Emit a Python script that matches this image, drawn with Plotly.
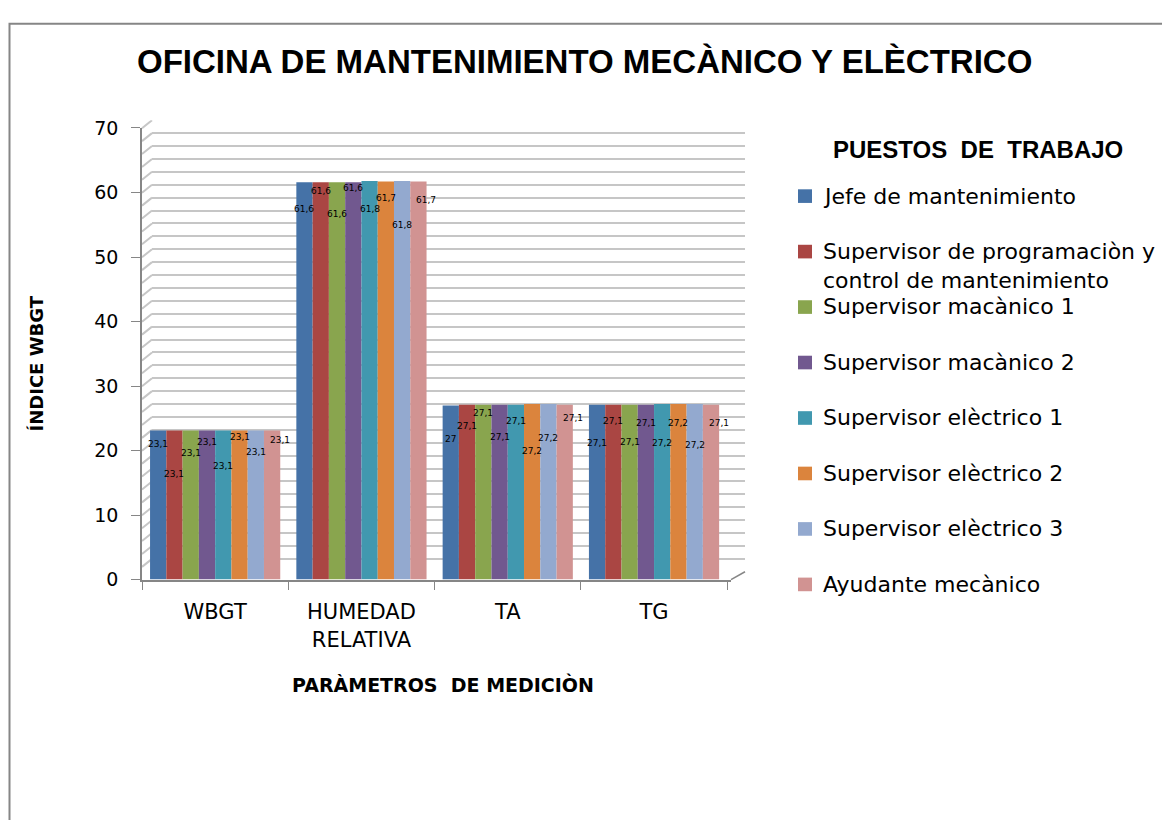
import plotly.graph_objects as go

W, H = 1170, 820
OFF = 8  # page body margin: the figure starts 8 px from the page corner

categories = ["WBGT", "HUMEDAD<br>RELATIVA", "TA", "TG"]
series_names = [
    "Jefe de mantenimiento",
    "Supervisor de programaciòn y<br>control de mantenimiento",
    "Supervisor macànico 1",
    "Supervisor macànico 2",
    "Supervisor elèctrico 1",
    "Supervisor elèctrico 2",
    "Supervisor elèctrico 3",
    "Ayudante mecànico",
]
# values per series, in the order of categories
jefe = [23.1, 61.6, 27.0, 27.1]
sup_prog = [23.1, 61.6, 27.1, 27.1]
sup_mec1 = [23.1, 61.6, 27.1, 27.1]
sup_mec2 = [23.1, 61.6, 27.1, 27.1]
sup_ele1 = [23.1, 61.8, 27.1, 27.2]
sup_ele2 = [23.1, 61.7, 27.2, 27.2]
sup_ele3 = [23.1, 61.8, 27.2, 27.2]
ayudante = [23.1, 61.7, 27.1, 27.1]
values = [jefe, sup_prog, sup_mec1, sup_mec2, sup_ele1, sup_ele2, sup_ele3, ayudante]

# ---- styles ----
colors = ["#4572A7", "#AA4643", "#89A54E", "#71588F", "#4198AF", "#DB843D", "#93A9CF", "#D19392"]
# label pixel drop below bar top, [series][category] (mimics Excel 3D label placement)
label_drop = [
    [13, 27, 34, 38],
    [43, 9, 21, 16],
    [22, 32, 8, 37],
    [11, 6, 32, 18],
    [35, 28, 16, 39],
    [6, 16, 47, 19],
    [21, 44, 34, 41],
    [9, 18, 13, 18],
]
BARGAP = 0.11
GRID = "#c6c6c6"
AXC = "#868686"
FONT = "DejaVu Sans"


def px_x(p):
    return (p - OFF) / W


def px_y(p):
    return 1 - (p - OFF) / H


fig = go.Figure()
# back wall subplot (grid only)
fig.add_trace(go.Scatter(x=[None], y=[None], xaxis="x", yaxis="y", showlegend=False, hoverinfo="skip"))

for i, (name, vals) in enumerate(zip(series_names, values)):
    fig.add_trace(go.Bar(
        x=categories, y=vals, name=name, xaxis="x2", yaxis="y2",
        marker=dict(color=colors[i], line=dict(width=0)),
        showlegend=False,
    ))

annotations = []
n = len(series_names)
w = (1 - BARGAP) / n
for i, vals in enumerate(values):
    for j, v in enumerate(vals):
        txt = (f"{v:g}").replace(".", ",")
        annotations.append(dict(
            x=j + (i - (n - 1) / 2) * w, y=v, xref="x2", yref="y2",
            xanchor="center", yanchor="middle",
            text=txt, showarrow=False, yshift=-label_drop[i][j],
            xshift=8 if i == n - 1 else 0,
            font=dict(family=FONT, size=9, color="#000000"),
        ))

# title
annotations.append(dict(
    x=px_x(584), y=px_y(52), xref="paper", yref="paper", showarrow=False,
    xanchor="center", yanchor="middle",
    text="<b>OFICINA DE MANTENIMIENTO MECÀNICO Y ELÈCTRICO</b>",
    font=dict(family="Liberation Sans", size=33, color="#000000"),
))
# axis titles
annotations.append(dict(
    x=px_x(37), y=px_y(362), xref="paper", yref="paper", showarrow=False, textangle=-90,
    xanchor="center", yanchor="middle",
    text="<b>ÍNDICE WBGT</b>", font=dict(family=FONT, size=18, color="#000000"),
))
annotations.append(dict(
    x=px_x(443), y=px_y(692), xref="paper", yref="paper", showarrow=False,
    xanchor="center", yanchor="middle",
    text="<b>PARÀMETROS  DE MEDICIÒN</b>", font=dict(family=FONT, size=19, color="#000000"),
))
# legend title
annotations.append(dict(
    x=px_x(978), y=px_y(142), xref="paper", yref="paper", showarrow=False,
    xanchor="center", yanchor="middle",
    text="<b>PUESTOS  DE  TRABAJO</b>", font=dict(family="Liberation Sans", size=24, color="#000000"),
))

shapes = []
# chart border (runs off the right and bottom edges)
shapes.append(dict(type="rect", xref="paper", yref="paper", x0=1.5 / W, x1=1.05, y0=-0.05, y1=px_y(13),
                   line=dict(color=AXC, width=2), fillcolor="rgba(0,0,0,0)", layer="below"))
# manual legend
LEG_FS = 22
for i, name in enumerate(series_names):
    yc = 190 + 57 * i
    shapes.append(dict(type="rect", xref="paper", yref="paper",
                       x0=px_x(798), x1=px_x(812), y0=px_y(yc + 7), y1=px_y(yc - 7),
                       fillcolor=colors[i], line=dict(width=0)))
    annotations.append(dict(
        x=px_x(821), y=px_y(yc - 15), xref="paper", yref="paper", showarrow=False,
        xanchor="left", yanchor="top", align="left", text=name,
        font=dict(family=FONT, size=LEG_FS, color="#000000"),
    ))
# side-wall slants connecting the front axis to the back wall grid
for v in range(0, 72, 2):
    shapes.append(dict(type="line", xref="paper", yref="y", x0=px_x(142), x1=px_x(152),
                       ysizemode="pixel", yanchor=v, y0=-8, y1=0,
                       line=dict(color=GRID, width=2), layer="below"))
# floor right slant
shapes.append(dict(type="line", xref="paper", yref="paper", x0=px_x(731), x1=px_x(745),
                   y0=px_y(584), y1=px_y(576), line=dict(color=AXC, width=1.5)))

fig.update_layout(
    width=W, height=H,
    margin=dict(l=0, r=0, t=0, b=0),
    paper_bgcolor="white", plot_bgcolor="rgba(0,0,0,0)",
    barmode="group", bargap=BARGAP, bargroupgap=0,
    showlegend=False,
    xaxis=dict(domain=[px_x(152), px_x(745)], anchor="y", range=[-0.5, 3.5],
               showgrid=False, showticklabels=False, ticks="", zeroline=False, showline=False),
    yaxis=dict(domain=[px_y(576), px_y(112)], anchor="x", range=[0, 70], dtick=2,
               showgrid=True, gridcolor=GRID, gridwidth=2, showticklabels=False,
               ticks="", zeroline=False, showline=False),
    xaxis2=dict(domain=[px_x(142), px_x(731)], anchor="y2", type="category",
                tickson="boundaries", ticks="outside", ticklen=9, tickcolor=AXC,
                showline=True, linecolor=AXC, linewidth=1.5, showgrid=False,
                tickfont=dict(family=FONT, size=21, color="#000000"),
                ticklabelstandoff=13),
    yaxis2=dict(domain=[px_y(584), px_y(120)], anchor="x2", range=[0, 70], dtick=10,
                ticks="outside", ticklen=9, tickcolor=AXC, showline=True, linecolor=AXC,
                linewidth=1.5, showgrid=False, zeroline=False, ticklabelstandoff=9,
                tickfont=dict(family=FONT, size=19, color="#000000")),
    annotations=annotations,
    shapes=shapes,
)

fig.write_html("out.html")
